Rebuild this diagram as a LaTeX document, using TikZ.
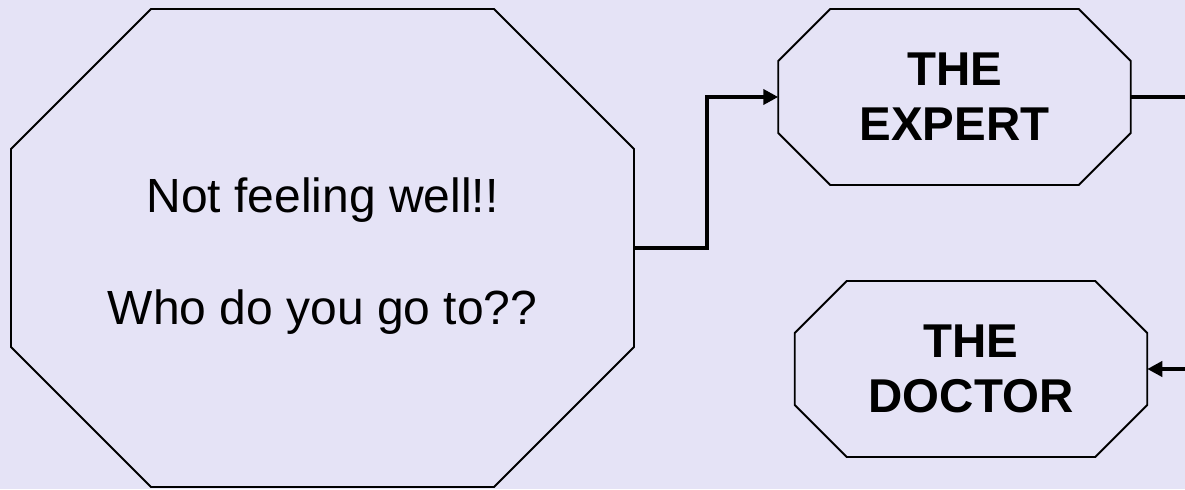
\documentclass[tikz,border=0pt]{standalone}
\usepackage{fontspec}
\setmainfont{Liberation Sans}
\usetikzlibrary{calc,arrows.meta}
\definecolor{lavender}{RGB}{229,227,246}

\begin{document}
\begin{tikzpicture}[>={Triangle[length=0.3cm,width=0.3cm]},
  box/.style={inner sep=0pt,outer sep=0pt,align=center,
    font=\fontsize{27.3}{32.1}\selectfont},
  head/.style={box,minimum width=7.05cm,minimum height=3.52cm,
    font=\fontsize{27}{31.3}\selectfont\bfseries},
  link/.style={->,line width=2.6pt},
  rim/.style={line width=1.1pt}]
  \useasboundingbox (0,0) rectangle (23.7,9.78);
  \clip (0,0) rectangle (23.7,9.78);
  \fill[lavender] (0,0) rectangle (23.7,9.78);
  \node[box,minimum width=12.46cm,minimum height=9.56cm] (feel) at (6.45,4.82)
    {\rule{0pt}{29pt}Not feeling well!!\\[32.1pt]Who do you go to??};
  \node[head] (expert) at (19.09,7.84) {THE\\EXPERT};
  \node[head] (doctor) at (19.42,2.40) {THE\\DOCTOR};
  % octagons round the three boxes
  \foreach \n/\c in {feel/2.8,expert/1.04,doctor/1.04}
    \draw[rim]($(\n.north west)+(\c,0)$)--($(\n.north east)+(-\c,0)$)
      --($(\n.north east)+(0,-\c)$)--($(\n.south east)+(0,\c)$)
      --($(\n.south east)+(-\c,0)$)--($(\n.south west)+(\c,0)$)
      --($(\n.south west)+(0,\c)$)--($(\n.north west)+(0,-\c)$)--cycle;
  \draw[link](feel.east)--++(1.46,0)|-(expert.west);
  \draw[link](expert.east)--++(3,0)|-(doctor.east);
\end{tikzpicture}
\end{document}
